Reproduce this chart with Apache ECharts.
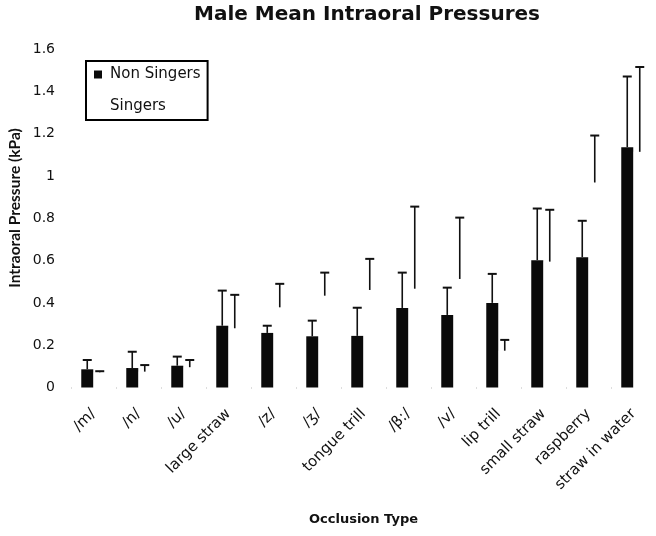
<!DOCTYPE html>
<html>
<head>
<meta charset="utf-8">
<script src="https://cdn.jsdelivr.net/npm/echarts@6/dist/echarts.min.js"></script>
<style>
  html, body { margin: 0; padding: 0; background: #fff; }
  #chart { width: 656px; height: 536px; }
</style>
</head>
<body>
<div id="chart"></div>
<script>
// values (kPa)
const categories = ['/m/', '/n/', '/u/', 'large straw', '/z/', '/ʒ/', 'tongue trill', '/β:/', '/v/', 'lip trill', 'small straw', 'raspberry', 'straw in water']
const nonSingers = [0.086, 0.092, 0.103, 0.292, 0.258, 0.242, 0.244, 0.376, 0.343, 0.400, 0.602, 0.616, 1.136]
const nonSingersErr = [0.044, 0.077, 0.043, 0.166, 0.034, 0.074, 0.133, 0.167, 0.129, 0.137, 0.244, 0.172, 0.334]
const singers = [0.072, 0.075, 0.096, 0.280, 0.379, 0.434, 0.461, 0.467, 0.513, 0.174, 0.595, 0.969, 1.114]
const singersErr = [0.005, 0.031, 0.034, 0.158, 0.111, 0.109, 0.147, 0.388, 0.290, 0.051, 0.245, 0.222, 0.401]

const wideFont = 'DejaVu Sans'

const chart = echarts.init(document.getElementById('chart'))

// upward error bar, drawn at the bar's own offset inside the category
const errorBars = (name, means, errs, shift) => ({
  type: 'custom',
  name: name,
  z: 3,
  silent: true,
  data: means.map((m, i) => [i, m, m + errs[i]]),
  renderItem: (params, api) => {
    const low = api.coord([api.value(0), api.value(1)])
    const high = api.coord([api.value(0), api.value(2)])
    const x = low[0] + shift
    return {
      type: 'group',
      children: [
        { type: 'line', shape: { x1: x, y1: low[1], x2: x, y2: high[1] }, style: { stroke: '#111', lineWidth: 1.6 } },
        { type: 'line', shape: { x1: x - 4.5, y1: high[1], x2: x + 4.5, y2: high[1] }, style: { stroke: '#111', lineWidth: 2 } }
      ]
    }
  }
})

const option = {
  animation: false,
  backgroundColor: '#fff',
  title: {
    text: 'Male Mean Intraoral Pressures',
    left: 367,
    top: 5,
    padding: 0,
    textAlign: 'center',
    textStyle: { fontFamily: wideFont, fontWeight: 'bold', fontSize: 20, color: '#111' }
  },
  legend: {
    data: ['Non Singers', 'Singers'],
    orient: 'vertical',
    left: 86,
    top: 61,
    icon: 'rect',
    itemWidth: 8,
    itemHeight: 8,
    itemGap: 17,
    padding: [6, 7, 6, 8],
    borderColor: '#000',
    borderWidth: 2,
    textStyle: { fontFamily: wideFont, fontSize: 15, color: '#111', padding: [0, 0, 0, 3] }
  },
  grid: { left: 71, right: -4, top: 49, bottom: 148.5 },
  xAxis: {
    type: 'category',
    data: categories,
    name: 'Occlusion Type',
    nameLocation: 'middle',
    nameGap: 126,
    nameTextStyle: { fontFamily: wideFont, fontWeight: 'bold', fontSize: 13, color: '#111' },
    axisLine: { show: false },
    axisTick: { show: true, length: 1, lineStyle: { color: '#bbb' } },
    axisLabel: { rotate: 45, margin: 24, interval: 0, fontFamily: wideFont, fontSize: 15, color: '#111' }
  },
  yAxis: {
    type: 'value',
    min: 0,
    max: 1.6,
    interval: 0.2,
    axisLine: { show: false },
    axisTick: { show: false },
    splitLine: { show: false },
    axisLabel: { margin: 16, fontFamily: wideFont, fontSize: 14, color: '#111' }
  },
  graphic: [{
    type: 'text',
    x: 15,
    y: 208,
    rotation: Math.PI / 2,
    style: {
      text: 'Intraoral Pressure (kPa)',
      font: 'bold 15.5px Lato',
      fill: '#111',
      align: 'center',
      verticalAlign: 'middle'
    }
  }],
  series: [
    { name: 'Non Singers', type: 'bar', data: nonSingers, barWidth: 12, barGap: '4%', itemStyle: { color: '#0a0a0a' } },
    { name: 'Singers', type: 'bar', data: singers, barWidth: 12, itemStyle: { color: '#fff' } },
    errorBars('Non Singers error', nonSingers, nonSingersErr, -6.25),
    errorBars('Singers error', singers, singersErr, 6.25)
  ]
}

chart.setOption(option)
</script>
</body>
</html>
